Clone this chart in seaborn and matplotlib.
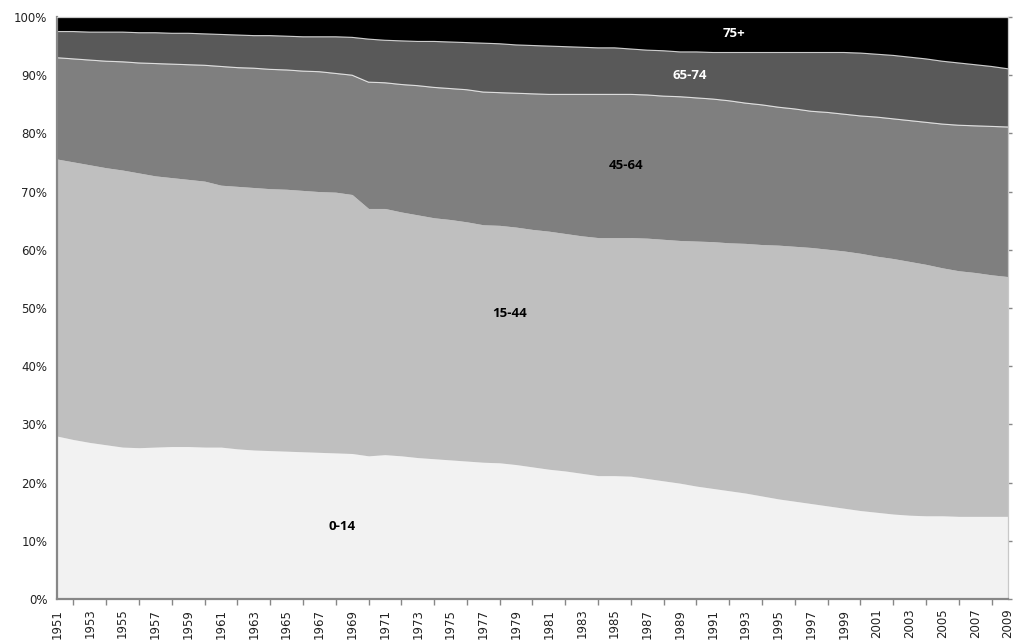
import numpy as np
import matplotlib
matplotlib.use("Agg")
import matplotlib.pyplot as plt
import seaborn as sns

years = list(range(1951, 2010))

# share of population by age group, %
age_0_14 = [28.0, 27.4, 26.9, 26.5, 26.1, 26.0, 26.1, 26.2, 26.2, 26.1,
            26.1, 25.8, 25.6, 25.5, 25.4, 25.3, 25.2, 25.1, 25.0, 24.6,
            24.8, 24.6, 24.3, 24.1, 23.9, 23.7, 23.5, 23.4, 23.1, 22.7,
            22.3, 22.0, 21.6, 21.2, 21.2, 21.1, 20.7, 20.3, 19.9, 19.4,
            19.0, 18.6, 18.2, 17.7, 17.2, 16.8, 16.4, 16.0, 15.6, 15.2,
            14.9, 14.6, 14.4, 14.3, 14.3, 14.2, 14.2, 14.2, 14.2]
age_15_44 = [47.6, 47.7, 47.7, 47.6, 47.6, 47.2, 46.6, 46.2, 45.9, 45.7,
             45.0, 45.1, 45.1, 45.0, 45.0, 44.9, 44.8, 44.8, 44.5, 42.5,
             42.3, 41.9, 41.7, 41.4, 41.3, 41.1, 40.8, 40.8, 40.8, 40.8,
             40.9, 40.8, 40.8, 40.9, 40.9, 41.0, 41.3, 41.5, 41.7, 42.1,
             42.4, 42.6, 42.9, 43.2, 43.6, 43.8, 44.0, 44.1, 44.2, 44.2,
             44.0, 43.9, 43.6, 43.2, 42.6, 42.2, 41.9, 41.5, 41.2]
age_45_64 = [17.4, 17.7, 18.0, 18.3, 18.6, 18.9, 19.3, 19.5, 19.7, 19.9,
             20.4, 20.4, 20.5, 20.5, 20.5, 20.5, 20.6, 20.4, 20.5, 21.7,
             21.6, 21.9, 22.2, 22.4, 22.5, 22.7, 22.8, 22.8, 23.0, 23.3,
             23.5, 23.9, 24.3, 24.6, 24.6, 24.6, 24.6, 24.6, 24.7, 24.6,
             24.5, 24.4, 24.1, 24.0, 23.7, 23.6, 23.4, 23.5, 23.5, 23.6,
             23.9, 24.0, 24.2, 24.4, 24.7, 25.0, 25.2, 25.5, 25.7]
age_65_74 = [4.5, 4.7, 4.8, 5.0, 5.1, 5.2, 5.3, 5.3, 5.4, 5.4,
             5.5, 5.6, 5.6, 5.8, 5.8, 5.9, 6.0, 6.3, 6.5, 7.4,
             7.3, 7.5, 7.6, 7.9, 8.0, 8.1, 8.4, 8.4, 8.3, 8.3,
             8.3, 8.2, 8.1, 8.0, 8.0, 7.8, 7.7, 7.8, 7.7, 7.9,
             8.0, 8.3, 8.7, 9.0, 9.4, 9.7, 10.1, 10.3, 10.6, 10.8,
             10.8, 10.9, 10.9, 10.9, 10.8, 10.7, 10.5, 10.3, 10.0]
age_75_plus = [2.5, 2.5, 2.6, 2.6, 2.6, 2.7, 2.7, 2.8, 2.8, 2.9,
               3.0, 3.1, 3.2, 3.2, 3.3, 3.4, 3.4, 3.4, 3.5, 3.8,
               4.0, 4.1, 4.2, 4.2, 4.3, 4.4, 4.5, 4.6, 4.8, 4.9,
               5.0, 5.1, 5.2, 5.3, 5.3, 5.5, 5.7, 5.8, 6.0, 6.0,
               6.1, 6.1, 6.1, 6.1, 6.1, 6.1, 6.1, 6.1, 6.1, 6.2,
               6.4, 6.6, 6.9, 7.2, 7.6, 7.9, 8.2, 8.5, 8.9]

groups = ["0-14", "15-44", "45-64", "65-74", "75+"]
colors = ["#f2f2f2", "#bfbfbf", "#7f7f7f", "#595959", "#000000"]

sns.set_style("white")
plt.rcParams["font.family"] = ["DejaVu Sans"]

fig = plt.figure(figsize=(10.16, 6.41), dpi=100)
ax = fig.add_axes([0.0561, 0.0655, 0.9360, 0.9080])

series = np.array([age_0_14, age_15_44, age_45_64, age_65_74, age_75_plus])
shares = series / series.sum(axis=0) * 100
ax.stackplot(years, shares, colors=colors, linewidth=0)

# thin white separators on the upper bands
tops = np.cumsum(shares, axis=0)
for i in (2, 3):
    ax.plot(years, tops[i], color="white", lw=0.8, alpha=0.8)

ax.set_xlim(1951, 2009)
ax.set_ylim(0, 100)
ax.set_yticks(range(0, 101, 10))
ax.set_yticklabels([f"{v}%" for v in range(0, 101, 10)], fontsize=8.5,
                   color="#222222")
ax.set_xticks(years[::2])
ax.set_xticklabels([str(y) for y in years[::2]], rotation=90, fontsize=8.5,
                   color="#222222")
ax.set_xticks(years, minor=True)

for s in ("left", "bottom"):
    ax.spines[s].set_color("#878787")
    ax.spines[s].set_linewidth(1.6)
for s in ("top", "right"):
    ax.spines[s].set_color("#c8c8c8")
    ax.spines[s].set_linewidth(0.9)
ax.tick_params(axis="both", which="both", direction="out", color="#878787",
               length=4, width=1, pad=3)
ax.tick_params(axis="x", which="minor", bottom=True, length=4)

# faint ticks on the right border
for t in ax.yaxis.get_major_ticks():
    t.tick2line.set_visible(True)
    t.tick2line.set_color("#c8c8c8")
    t.tick2line.set_markersize(3)

lab = dict(fontsize=9.5, fontweight="bold", ha="center", va="center",
           family="Open Sans")
ax.text(1968.4, 12.4, "0-14", color="black", **lab)
ax.text(1978.6, 49.0, "15-44", color="black", **lab)
ax.text(1985.7, 74.4, "45-64", color="black", **lab)
ax.text(1989.6, 89.9, "65-74", color="white", **lab)
ax.text(1992.3, 97.1, "75+", color="white", **lab)

fig.savefig("out.png", dpi=100)
